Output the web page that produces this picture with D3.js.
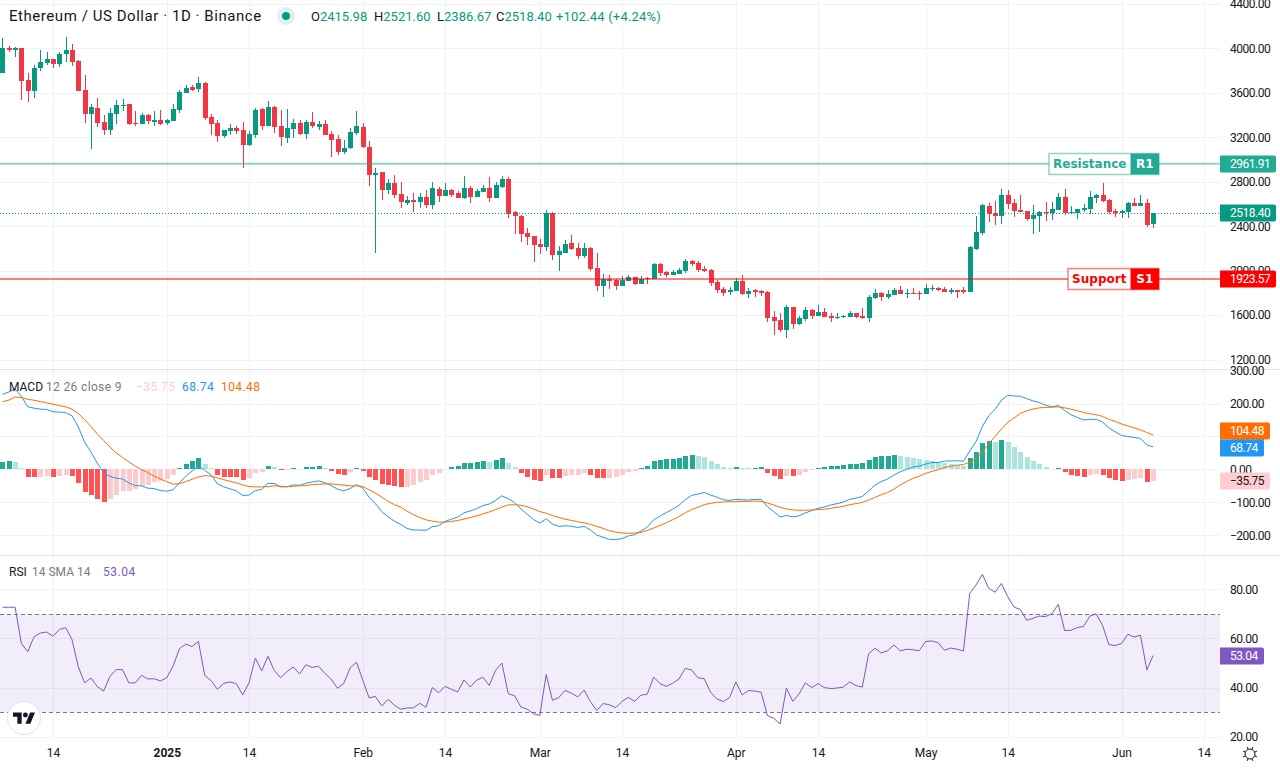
<!DOCTYPE html>
<html>
<head>
<meta charset="utf-8">
<script src="https://cdn.jsdelivr.net/npm/d3@7/dist/d3.min.js"></script>
<style>
  html, body { margin: 0; padding: 0; background: #fff; }
  svg { display: block; }
  text { font-family: Roboto, sans-serif; }
</style>
</head>
<body>
<svg id="chart" width="1280" height="768"></svg>
<script>
// candles, first one is 6 Dec 2024, one per day
var firstDay = new Date(Date.UTC(2024, 11, 6));

var opens = [
  3780,4005,3984,4002,3714,3618,3822,3867,3903,3858,
  3948,3984,3885,3624,3408,3462,3336,3264,3408,3483,
  3498,3327,3318,3399,3336,3354,3327,3345,3444,3597,
  3651,3633,3687,3381,3327,3210,3255,3282,3264,3129,
  3219,3453,3300,3471,3300,3192,3273,3327,3228,3336,
  3291,3318,3228,3183,3066,3102,3237,3291,3111,2859,
  2886,2724,2787,2688,2607,2634,2616,2661,2589,2733,
  2670,2724,2697,2652,2742,2661,2706,2742,2652,2751,
  2823,2526,2490,2337,2310,2238,2211,2517,2139,2157,
  2247,2202,2130,2202,2022,1860,1923,1914,1860,1905,
  1941,1878,1932,1923,2058,1986,1959,1968,1995,2085,
  2067,2013,2004,1896,1833,1806,1815,1905,1788,1824,
  1815,1806,1581,1554,1464,1671,1518,1563,1644,1590,
  1626,1590,1572,1581,1581,1617,1590,1572,1752,1797,
  1761,1779,1824,1791,1797,1797,1788,1836,1842,1833,
  1806,1824,1824,1806,2193,2337,2580,2517,2490,2679,
  2607,2544,2535,2463,2490,2526,2517,2544,2661,2517,
  2517,2544,2553,2652,2679,2634,2535,2517,2526,2607,
  2580,2607,2415.98
];
var highs = [
  4092,4026,4014,4002,3780,3849,3984,3966,3903,3972,
  4101,4038,3894,3759,3498,3552,3402,3462,3534,3543,
  3504,3435,3417,3414,3435,3444,3363,3498,3624,3669,
  3669,3741,3696,3408,3354,3264,3318,3300,3336,3255,
  3468,3468,3525,3480,3444,3453,3363,3354,3354,3426,
  3345,3354,3255,3219,3174,3282,3435,3327,3165,2922,
  2886,2823,2859,2796,2670,2697,2697,2724,2796,2751,
  2787,2733,2715,2850,2760,2733,2769,2841,2796,2850,
  2841,2535,2499,2382,2310,2283,2544,2526,2220,2274,
  2319,2247,2247,2211,2157,1968,1959,1923,1950,1959,
  1941,1950,1941,2067,2067,1995,2004,2022,2103,2094,
  2085,2040,2013,1914,1851,1851,1932,1959,1842,1833,
  1824,1815,1635,1617,1689,1671,1590,1671,1653,1689,
  1662,1617,1617,1605,1635,1617,1662,1779,1833,1806,
  1824,1842,1860,1833,1842,1815,1878,1869,1851,1851,
  1842,1824,1851,2220,2490,2598,2607,2625,2733,2724,
  2643,2679,2535,2589,2535,2616,2616,2697,2733,2580,
  2553,2598,2715,2688,2787,2643,2553,2544,2616,2652,
  2679,2643,2521.6
];
var lows = [
  3780,3969,3924,3534,3519,3555,3795,3849,3825,3831,
  3876,3840,3618,3327,3093,3294,3219,3219,3318,3435,
  3309,3300,3318,3318,3300,3309,3309,3345,3417,3597,
  3618,3606,3354,3219,3156,3192,3219,3228,2922,3120,
  3192,3264,3300,3237,3120,3147,3192,3219,3183,3282,
  3264,3219,3021,3039,3048,3093,3219,3102,2760,2157,
  2634,2694,2652,2562,2589,2526,2562,2562,2553,2616,
  2670,2661,2652,2643,2607,2661,2706,2616,2652,2742,
  2472,2328,2256,2229,2076,2148,2175,2094,1995,2157,
  2184,2103,2112,1995,1815,1761,1833,1824,1860,1905,
  1869,1878,1878,1923,1950,1941,1959,1968,1977,2040,
  1986,1986,1860,1797,1770,1779,1815,1779,1752,1761,
  1770,1536,1419,1446,1392,1473,1509,1545,1563,1590,
  1581,1536,1563,1572,1581,1572,1563,1536,1743,1725,
  1743,1779,1788,1752,1788,1734,1788,1815,1815,1806,
  1788,1752,1788,1806,2184,2319,2436,2409,2418,2553,
  2481,2526,2445,2328,2346,2445,2454,2544,2499,2508,
  2463,2526,2508,2607,2616,2508,2481,2472,2472,2580,
  2580,2391,2386.67
];
var closes = [
  4002,3984,4002,3705,3618,3828,3876,3903,3858,3948,
  3984,3876,3618,3411,3471,3327,3264,3417,3489,3489,
  3318,3318,3399,3345,3354,3318,3354,3453,3606,3648,
  3624,3687,3372,3318,3210,3264,3282,3255,3129,3228,
  3444,3300,3471,3291,3201,3282,3327,3228,3336,3300,
  3318,3219,3174,3066,3108,3246,3300,3111,2859,2877,
  2724,2787,2679,2616,2634,2616,2661,2589,2742,2670,
  2724,2679,2652,2742,2661,2715,2742,2652,2769,2823,
  2508,2490,2328,2301,2229,2211,2517,2139,2175,2238,
  2193,2130,2202,2013,1860,1923,1905,1860,1914,1941,
  1878,1923,1923,2058,1977,1959,1986,2004,2085,2058,
  2004,1995,1887,1824,1797,1824,1905,1788,1815,1806,
  1797,1572,1545,1464,1671,1518,1572,1644,1590,1626,
  1581,1572,1581,1590,1617,1581,1572,1761,1797,1761,
  1788,1824,1788,1797,1791,1791,1842,1842,1824,1806,
  1824,1806,1806,2211,2346,2589,2508,2490,2679,2598,
  2535,2526,2463,2499,2526,2517,2553,2661,2517,2526,
  2553,2562,2661,2679,2625,2526,2517,2535,2607,2580,
  2607,2409,2518.4
];

// MACD pane
var macdHist = [
  22,25,24,4,-23,-24,-23,-20,-23,-20,
  -17,-20,-41,-68,-77,-89,-98,-89,-77,-65,
  -64,-59,-50,-47,-38,-35,-29,-17,3,16,
  25,34,16,4,-18,-22,-23,-24,-32,-26,
  -11,-8,10,7,-2,-1,4,2,7,8,
  10,4,-5,-14,-17,-8,4,-5,-23,-32,
  -44,-47,-50,-53,-52,-47,-38,-32,-17,-11,
  2,7,10,19,20,22,25,24,28,34,
  19,7,-11,-23,-32,-35,-17,-26,-27,-20,
  -18,-17,-11,-17,-26,-27,-26,-23,-17,-8,
  -5,4,10,25,28,31,32,34,40,43,
  40,37,25,16,7,4,7,5,4,5,
  6,-11,-20,-29,-20,-21,-17,-8,-2,4,
  7,10,11,13,16,17,18,28,37,40,
  41,43,40,37,34,31,28,27,22,19,
  16,13,10,34,52,79,85,82,88,82,
  67,52,37,25,16,7,1,4,-8,-17,
  -20,-23,-17,-14,-17,-26,-32,-35,-32,-29,
  -26,-38,-35.75
];
var macdLine = [
  228,235,244,222,190,186,183,182,175,174,
  173,163,129,83,53,19,-10,-21,-27,-29,
  -41,-49,-50,-57,-58,-64,-66,-62,-40,-21,
  -5,11,-3,-16,-44,-53,-59,-65,-79,-78,
  -64,-61,-42,-43,-53,-53,-47,-48,-42,-38,
  -35,-40,-49,-60,-65,-58,-46,-57,-85,-104,
  -128,-144,-157,-167,-179,-184,-184,-185,-174,-171,
  -158,-151,-145,-132,-126,-119,-110,-105,-94,-80,
  -89,-100,-120,-136,-152,-163,-150,-166,-173,-171,
  -173,-176,-173,-184,-199,-206,-212,-213,-210,-202,
  -198,-187,-175,-153,-142,-131,-121,-109,-92,-79,
  -75,-70,-78,-84,-92,-94,-91,-92,-93,-91,
  -91,-113,-128,-144,-140,-144,-141,-132,-125,-118,
  -114,-108,-104,-99,-91,-87,-82,-65,-48,-37,
  -29,-17,-7,0,7,10,16,21,21,25,
  26,26,25,56,85,131,163,182,210,225,
  223,222,215,208,203,195,190,194,179,166,
  158,150,152,152,144,126,114,103,100,97,
  94,74,68.74
];
var signalLine = [
  206,210,220,218,213,210,206,202,198,194,
  190,183,170,151,130,108,88,68,50,36,
  23,10,0,-10,-20,-29,-37,-45,-43,-37,
  -30,-23,-19,-20,-26,-31,-36,-41,-47,-52,
  -53,-53,-52,-50,-51,-52,-51,-50,-49,-46,
  -45,-44,-44,-46,-48,-50,-50,-52,-62,-72,
  -84,-97,-107,-114,-127,-137,-146,-153,-157,-160,
  -160,-158,-155,-151,-146,-141,-135,-129,-122,-114,
  -108,-107,-109,-113,-120,-128,-133,-140,-146,-151,
  -155,-159,-162,-167,-173,-179,-186,-190,-193,-194,
  -193,-191,-185,-178,-170,-162,-153,-143,-132,-122,
  -115,-107,-103,-100,-99,-98,-98,-97,-97,-96,
  -97,-102,-108,-115,-120,-123,-124,-124,-123,-122,
  -121,-118,-115,-112,-107,-104,-100,-93,-85,-77,
  -70,-60,-47,-37,-27,-21,-12,-6,-1,6,
  10,13,15,22,33,52,78,100,122,143,
  156,170,178,183,187,188,189,190,187,183,
  178,173,169,166,161,152,146,138,132,126,
  120,112,104.48
];

// RSI pane
var rsiLine = [
  72.7,72.7,72.7,58,54.6,60.7,62.2,62.6,60.9,63.6,
  64.4,59.6,48.5,41.9,43.9,40.4,38.6,44.5,47.3,47.3,
  41.9,41.9,45,43.5,43.6,42.7,44,48.8,55.8,57.7,
  56.7,58.8,44.9,42.8,39.3,41.7,42.3,41.6,37,41.9,
  52,46.8,52.7,46.9,44,46.5,48.4,45.5,49.3,48.2,
  48.7,45.8,43.4,39.7,41.7,48,50.3,43,35.8,36.4,
  32.5,35.2,32.8,31.2,31.7,31.7,33.6,32,40,37.9,
  40.5,39.3,38.2,43.1,40.2,43,44.2,40.9,47,50,
  37.5,36.7,32.1,31.2,29.3,28.7,45.3,34.8,35.9,38.9,
  37.7,36.2,39,34.3,30.6,33.5,33,31.8,34.4,36,
  34.4,36.9,37.3,44.3,41.6,40.5,41.7,43.5,47.8,47.2,
  44,43.6,38.1,35.4,34.3,35.9,42.3,37,38.8,38.6,
  38.1,28.6,27.5,25.2,39.8,34.4,37.4,41.9,40,41.6,
  40,39.6,39.8,40.2,42.3,40.8,40.2,53.7,56,54.1,
  55,57.3,55,55.6,55.4,55,58.7,59,58.2,55.2,
  56.1,55.6,54.9,78.4,81.8,86.1,80.4,78.8,82.4,77,
  72.8,71.7,67.4,68.2,69.1,68.9,70.1,73.9,63.2,63.3,
  64.4,64.9,69.1,70,65.3,57.5,57.1,57.9,61.7,60.6,
  61.3,47.2,53.04
];

// axis ticks
var priceTicks = [1200, 1600, 2000, 2400, 2800, 3200, 3600, 4000, 4400];
var macdTicks = [-200, -100, 0, 100, 200, 300];
var rsiTicks = [20, 40, 60, 80];
var timeTicks = [[2024,11,14],[2025,0,1],[2025,0,14],[2025,1,1],[2025,1,14],[2025,2,1],[2025,2,14],
  [2025,3,1],[2025,3,14],[2025,4,1],[2025,4,14],[2025,5,1],[2025,5,14]];
var timeLabels = ["14","2025","14","Feb","14","Mar","14","Apr","14","May","14","Jun","14"];

var resistance = 2961.91, support = 1923.57;
var lastClose = 2518.40;

var upColor = "#089981", downColor = "#f23645";
var gridColor = "#f1f2f5", textColor = "#131722";
var plotRight = 1220;

var svg = d3.select("#chart");

var days = opens.map(function (d, i) { return d3.utcDay.offset(firstDay, i); });
var tickDates = timeTicks.map(function (d) { return new Date(Date.UTC(d[0], d[1], d[2])); });

var x = d3.scaleUtc()
  .domain([new Date(Date.UTC(2024, 11, 14)), new Date(Date.UTC(2025, 5, 14))])
  .range([53, 1203.7]);
var priceY = d3.scaleLinear().domain([1200, 4400]).range([359.5, 4]);
var macdY = d3.scaleLinear().domain([-200, 300]).range([535.3, 370.6]);
var rsiY = d3.scaleLinear().domain([20, 80]).range([736.7, 589.3]);

function px(v) { return Math.round(v) + 0.5; }

// grid
var grid = svg.append("g").attr("shape-rendering", "crispEdges").attr("stroke", gridColor);
grid.selectAll("line.v").data(tickDates).enter().append("line")
  .attr("x1", function (d) { return px(x(d)); })
  .attr("x2", function (d) { return px(x(d)); })
  .attr("y1", 0).attr("y2", 740);
function hGrid(ticks, y) {
  grid.selectAll(null).data(ticks).enter().append("line")
    .attr("x1", 0).attr("x2", plotRight)
    .attr("y1", function (d) { return px(y(d)); })
    .attr("y2", function (d) { return px(y(d)); });
}
hGrid(priceTicks, priceY);
hGrid(macdTicks, macdY);
hGrid(rsiTicks, rsiY);

// pane separators
svg.selectAll("line.sep").data([369.5, 555.5]).enter().append("line")
  .attr("class", "sep")
  .attr("x1", 0).attr("x2", 1280)
  .attr("y1", function (d) { return d; }).attr("y2", function (d) { return d; })
  .attr("stroke", "#e0e3eb").attr("shape-rendering", "crispEdges");

// candles
var candles = svg.append("g").attr("shape-rendering", "crispEdges");
var candle = candles.selectAll("g").data(days).enter().append("g");
function candleColor(d, i) { return closes[i] >= opens[i] ? upColor : downColor; }
candle.append("line")
  .attr("x1", function (d) { return px(x(d)); })
  .attr("x2", function (d) { return px(x(d)); })
  .attr("y1", function (d, i) { return priceY(highs[i]); })
  .attr("y2", function (d, i) { return priceY(lows[i]); })
  .attr("stroke", candleColor);
candle.append("rect")
  .attr("x", function (d) { return Math.round(x(d)) - 2; })
  .attr("width", 5)
  .attr("y", function (d, i) { return priceY(Math.max(opens[i], closes[i])); })
  .attr("height", function (d, i) { return Math.max(1, Math.abs(priceY(opens[i]) - priceY(closes[i]))); })
  .attr("fill", candleColor);

// last price dotted line
svg.append("line")
  .attr("x1", 0).attr("x2", plotRight)
  .attr("y1", px(priceY(lastClose))).attr("y2", px(priceY(lastClose)))
  .attr("stroke", upColor).attr("stroke-dasharray", "1 2");

// support and resistance lines with their tags
function level(value, color, name, tag, boxLeft) {
  var y = priceY(value);
  svg.append("line")
    .attr("x1", 0).attr("x2", plotRight)
    .attr("y1", y).attr("y2", y)
    .attr("stroke", color).attr("stroke-opacity", 0.5).attr("stroke-width", 2);
  var top = Math.round(y) - 10.5, h = 21, split = 1130.5, right = 1159;
  svg.append("rect")
    .attr("x", boxLeft).attr("y", top).attr("width", right - boxLeft).attr("height", h)
    .attr("fill", "#fff").attr("stroke", color).attr("stroke-opacity", 0.5).attr("stroke-width", 1.5);
  svg.append("rect")
    .attr("x", split).attr("y", top).attr("width", right - split).attr("height", h)
    .attr("fill", color);
  svg.append("text")
    .attr("x", (boxLeft + split) / 2).attr("y", y + 4).attr("text-anchor", "middle")
    .attr("fill", color).style("font-family", "'DejaVu Sans'").style("font-weight", "bold")
    .style("font-size", "12px").text(name);
  svg.append("text")
    .attr("x", (split + right) / 2).attr("y", y + 4).attr("text-anchor", "middle")
    .attr("fill", "#fff").style("font-family", "'DejaVu Sans'").style("font-weight", "bold")
    .style("font-size", "12px").text(tag);
}
level(resistance, "#22ab94", "Resistance", "R1", 1049);
level(support, "#ff0000", "Support", "S1", 1068);

// macd histogram, dark when the bar grows upward / falling below zero, light otherwise
function histColor(d, i) {
  var prev = i > 0 ? macdHist[i - 1] : d;
  if (d >= 0) return prev <= d ? "#22ab94" : "#ace5dc";
  return prev < d ? "#fccbcd" : "#ff5252";
}
svg.append("g").attr("shape-rendering", "crispEdges")
  .selectAll("rect").data(macdHist).enter().append("rect")
  .attr("x", function (d, i) { return Math.round(x(days[i])) - 2; })
  .attr("width", 5)
  .attr("y", function (d) { return Math.min(macdY(d), macdY(0)); })
  .attr("height", function (d) { return Math.abs(macdY(d) - macdY(0)); })
  .attr("fill", histColor);

function drawLine(values, y, color) {
  var line = d3.line()
    .x(function (d, i) { return x(days[i]); })
    .y(function (d) { return y(d); });
  svg.append("path").datum(values)
    .attr("d", line).attr("fill", "none").attr("stroke", color).attr("stroke-width", 1);
}
drawLine(macdLine, macdY, "#2196f3");
drawLine(signalLine, macdY, "#ff6d00");

// rsi band and line
svg.append("rect")
  .attr("x", 0).attr("width", plotRight)
  .attr("y", rsiY(70)).attr("height", rsiY(30) - rsiY(70))
  .attr("fill", "#7e57c2").attr("fill-opacity", 0.1);
svg.selectAll("line.band").data([70, 30]).enter().append("line")
  .attr("class", "band")
  .attr("x1", 0).attr("x2", plotRight)
  .attr("y1", function (d) { return px(rsiY(d)); })
  .attr("y2", function (d) { return px(rsiY(d)); })
  .attr("stroke", "#787b86").attr("stroke-dasharray", "4 3");
drawLine(rsiLine, rsiY, "#7e57c2");

// right hand axes
function yAxis(y, ticks) {
  var g = svg.append("g")
    .attr("transform", "translate(1224,0)")
    .call(d3.axisRight(y).tickValues(ticks).tickFormat(d3.format(".2f")).tickSize(0).tickPadding(6));
  g.select(".domain").remove();
  g.selectAll("text").attr("fill", textColor).attr("letter-spacing", -0.5)
    .style("font-size", "12px").style("font-family", "Roboto");
}
yAxis(priceY, priceTicks);
yAxis(macdY, macdTicks);
yAxis(rsiY, rsiTicks);

// time axis
var timeAxis = svg.append("g")
  .attr("transform", "translate(0,748)")
  .call(d3.axisBottom(x).tickValues(tickDates).tickSize(0).tickPadding(0)
    .tickFormat(function (d, i) { return timeLabels[i]; }));
timeAxis.select(".domain").remove();
timeAxis.selectAll("text")
  .attr("fill", textColor).style("font-size", "12px").style("font-family", "Roboto")
  .style("font-weight", function (d, i) { return timeLabels[i] === "2025" ? "bold" : "normal"; });

// value tags on the axis, nudge keeps neighbouring tags from covering each other
function axisTag(value, y, fill, color, right, nudge) {
  var cy = Math.round(y(value)) + (nudge || 0);
  svg.append("path")
    .attr("d", "M" + plotRight + "," + (cy - 8.5) + "H" + (right - 2) + "q2,0 2,2V" + (cy + 6.5) + "q0,2 -2,2H" + plotRight + "Z")
    .attr("fill", fill);
  svg.append("text")
    .attr("x", 1230).attr("y", cy + 4).attr("letter-spacing", -0.5)
    .attr("fill", color).style("font-size", "12px").style("font-family", "Roboto")
    .text(d3.format(".2f")(value));
}
axisTag(resistance, priceY, "#22ab94", "#fff", 1276);
axisTag(lastClose, priceY, upColor, "#fff", 1276);
axisTag(support, priceY, "#ff0000", "#fff", 1276);
axisTag(signalLine[signalLine.length - 1], macdY, "#ff6d00", "#fff", 1270, -4);
axisTag(macdLine[macdLine.length - 1], macdY, "#2196f3", "#fff", 1264, 1);
axisTag(macdHist[macdHist.length - 1], macdY, "#ffcdd2", textColor, 1270);
axisTag(rsiLine[rsiLine.length - 1], rsiY, "#7e57c2", "#fff", 1264);

// legends
function label(xPos, y, str, color, size, spacing) {
  return svg.append("text").attr("x", xPos).attr("y", y).attr("fill", color)
    .attr("letter-spacing", spacing || 0)
    .style("font-size", (size || 12) + "px").text(str);
}
label(9, 21, "Ethereum / US Dollar · 1D · Binance", textColor, 15, 0.55);
svg.append("circle").attr("cx", 286).attr("cy", 16).attr("r", 9).attr("fill", upColor).attr("fill-opacity", 0.13);
svg.append("circle").attr("cx", 286).attr("cy", 16).attr("r", 4).attr("fill", upColor);

var ohlc = [["O", "2415.98", 311], ["H", "2521.60", 374], ["L", "2386.67", 437], ["C", "2518.40", 496]];
ohlc.forEach(function (d) {
  var t = label(d[2], 21, d[0], textColor, 13);
  t.append("tspan").attr("fill", upColor).text(d[1]);
});
label(556, 21, "+102.44 (+4.24%)", upColor, 13, 0.2);

label(9, 391, "MACD", textColor);
label(46, 391, "12 26 close 9", "#787b86", 12, 0.35);
label(136, 391, "\u221235.75", "#ffcdd2", 12, 0.4);
label(182, 391, "68.74", "#2196f3", 12, 0.4);
label(221, 391, "104.48", "#ff6d00", 12, 0.4);

label(9, 576, "RSI", textColor);
label(32, 576, "14 SMA 14", "#787b86");
label(103, 576, "53.04", "#7e57c2", 12, 0.5);

// tradingview badge
var badge = svg.append("g").attr("transform", "translate(24,718)");
badge.append("circle").attr("r", 16.5).attr("fill", "#fff").attr("stroke", "#e0e3eb").attr("stroke-width", 1);
var mark = badge.append("g").attr("transform", "translate(-11,-8) scale(0.62)").attr("fill", textColor);
mark.append("path").attr("d", "M14 22H7V11H0V4h14v18zM28 22h-8l7.5-18h8L28 22z");
mark.append("circle").attr("cx", 20).attr("cy", 8).attr("r", 4);

// settings gear
var gear = svg.append("g").attr("transform", "translate(1250,754)")
  .attr("fill", "none").attr("stroke", textColor);
gear.append("circle").attr("r", 5);
d3.range(8).forEach(function (k) {
  var a = k * Math.PI / 4 + Math.PI / 8;
  gear.append("line")
    .attr("x1", 5 * Math.cos(a)).attr("y1", 5 * Math.sin(a))
    .attr("x2", 7.5 * Math.cos(a)).attr("y2", 7.5 * Math.sin(a));
});
</script>
</body>
</html>
